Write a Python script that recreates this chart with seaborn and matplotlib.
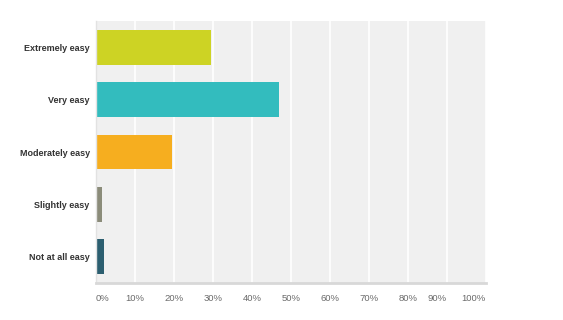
import matplotlib
matplotlib.use("Agg")
import matplotlib.pyplot as plt
import seaborn as sns
import pandas as pd

categories = ["Extremely easy", "Very easy", "Moderately easy", "Slightly easy", "Not at all easy"]
values = [29.5, 47.0, 19.5, 1.5, 2.0]
colors = ["#CDD324", "#33BCBE", "#F6AE1F", "#8B8C7A", "#2C5F70"]
tick_vals = [0, 10, 20, 30, 40, 50, 60, 70, 80, 90, 100]
tick_labels = ["0%", "10%", "20%", "30%", "40%", "50%", "60%", "70%", "80%", "90%", "100%"]

df = pd.DataFrame({"cat": categories, "val": values})

sns.set_theme(style="white")
plt.rcParams["font.family"] = ["Liberation Sans", "DejaVu Sans"]

fig = plt.figure(figsize=(5.63, 3.2), dpi=100)
ax = fig.add_axes([96 / 563, 1 - 283 / 320, 390 / 563, 262 / 320])
ax.set_facecolor("#F0F0F0")

sns.barplot(data=df, y="cat", x="val", hue="cat", palette=colors, order=categories,
            hue_order=categories, width=0.665, legend=False, ax=ax, saturation=1,
            linewidth=0)

ax.set_xlim(0, 100)
ax.set_ylim(4.5, -0.5)
ax.set_xticks(tick_vals)
ax.set_xticklabels(tick_labels)
ax.xaxis.grid(True, color="white", linewidth=1.2)
ax.set_axisbelow(True)
ax.set_xlabel("")
ax.set_ylabel("")

for lbl in ax.get_xticklabels():
    lbl.set_color("#6A6A6A")
    lbl.set_fontsize(6.8)
xl = ax.get_xticklabels()
xl[0].set_horizontalalignment("left")
xl[-1].set_horizontalalignment("right")
xl[-2].set_horizontalalignment("right")
ax.tick_params(axis="x", length=0, pad=8)
ax.tick_params(axis="y", length=0, pad=4.5)
for lbl in ax.get_yticklabels():
    lbl.set_fontweight("bold")
    lbl.set_color("#333333")
    lbl.set_fontsize(6.5)

for s in ["top", "right"]:
    ax.spines[s].set_visible(False)
ax.spines["bottom"].set_color("#D8D8D8")
ax.spines["bottom"].set_linewidth(2)
ax.spines["left"].set_color("#E2E2E2")
ax.spines["left"].set_linewidth(1)

fig.savefig("out.png", dpi=100)
